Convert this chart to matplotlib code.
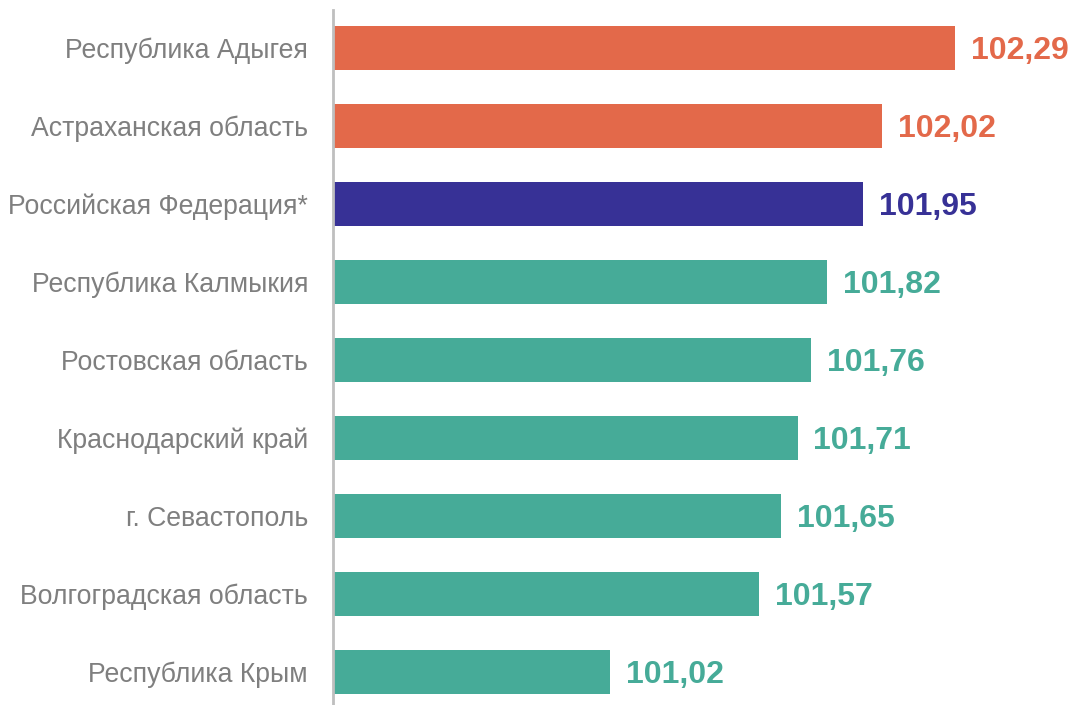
import matplotlib
matplotlib.use("Agg")
import matplotlib.pyplot as plt

# data
regions = ['Республика Адыгея', 'Астраханская область', 'Российская Федерация*',
           'Республика Калмыкия', 'Ростовская область', 'Краснодарский край',
           'г. Севастополь', 'Волгоградская область', 'Республика Крым']
values = [102.29, 102.02, 101.95, 101.82, 101.76, 101.71, 101.65, 101.57, 101.02]
groups = ['up', 'up', 'rf', 'down', 'down', 'down', 'down', 'down', 'down']

colors = {'up': '#E3694A', 'rf': '#373196', 'down': '#46AB98'}
base = 100.0

plt.rcParams['font.family'] = ['Liberation Sans', 'DejaVu Sans']

fig = plt.figure(figsize=(10.73, 7.05), dpi=100)
ax = fig.add_axes([333 / 1073, 0, 1 - 333 / 1073, 695 / 705])

ypos = list(range(len(regions)))
bar_colors = [colors[g] for g in groups]
widths = [v - base for v in values]
ax.barh(ypos, widths, left=base, height=0.565, color=bar_colors)

# value labels
for y, v, c in zip(ypos, values, bar_colors):
    ax.annotate('{:.2f}'.format(v).replace('.', ','), xy=(v, y), xytext=(11.5, -2),
                textcoords='offset points', va='center', ha='left',
                fontsize=23, fontweight='bold', color=c)

ax.set_xlim(base, base + (1073 - 333) / 271.65)
ax.set_ylim(8.423, -0.487)
ax.set_yticks(ypos)
ax.set_yticklabels(regions, fontsize=19.2, color='#7F7F7F')
ax.tick_params(axis='y', length=0, pad=18)
ax.set_xticks([])
for s in ['top', 'right', 'bottom']:
    ax.spines[s].set_visible(False)
ax.spines['left'].set_color('#BFBFBF')
ax.spines['left'].set_linewidth(2)

fig.savefig('out.png', dpi=100)
